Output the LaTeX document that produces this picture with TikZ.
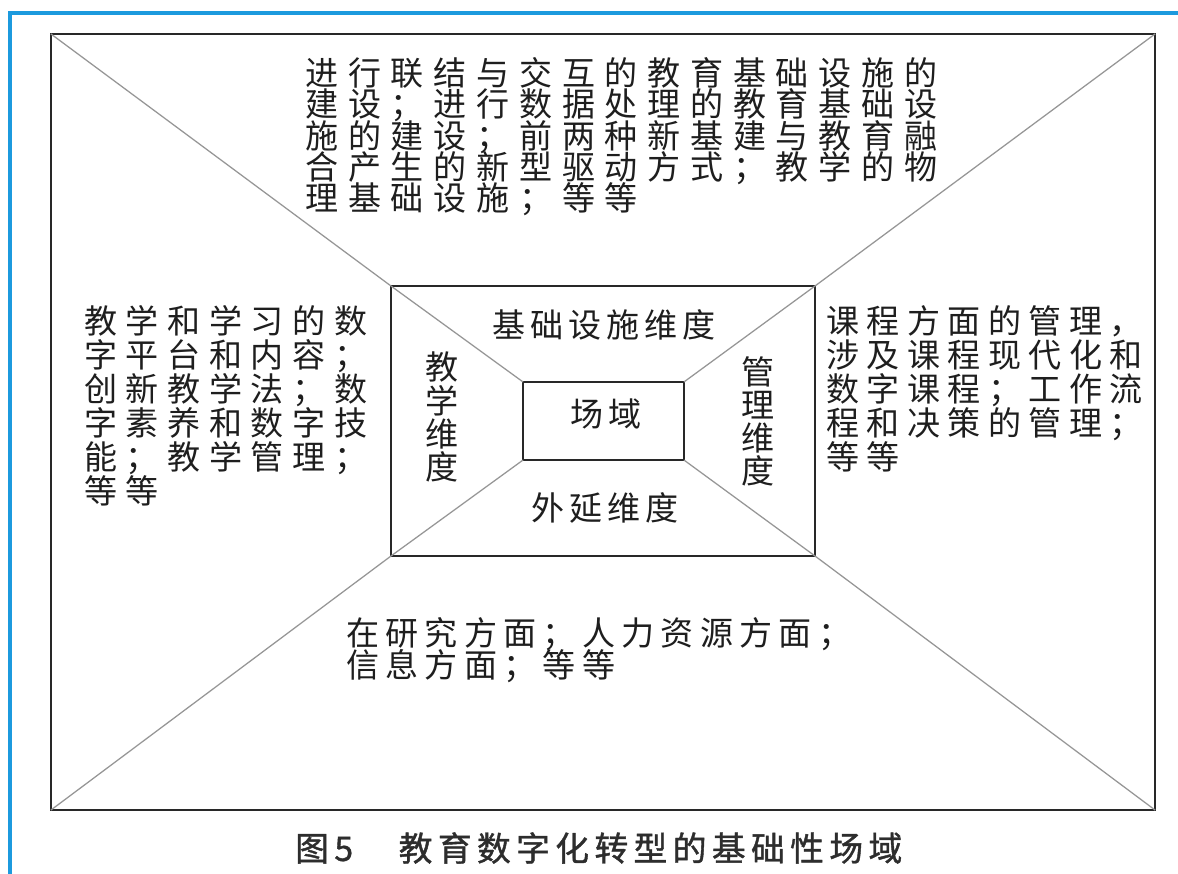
\documentclass[tikz,border=0pt]{standalone}
\usepackage{fontspec}
\usetikzlibrary{positioning}
\newfontfamily\cjkA[LetterSpace=29.5]{Noto Sans CJK SC}
\newfontfamily\cjkL[LetterSpace=26]{Noto Sans CJK SC}
\newfontfamily\cjkR[LetterSpace=22.5]{Noto Sans CJK SC}
\newfontfamily\cjkD[LetterSpace=19]{Noto Sans CJK SC}
\newfontfamily\cjkC[LetterSpace=14.5]{Noto Sans CJK SC}
\newfontfamily\capfont[LetterSpace=16,FakeBold=1.2]{Noto Sans CJK SC}
\definecolor{frameblue}{RGB}{28,154,222}
\definecolor{lnclr}{RGB}{40,40,40}
\definecolor{diagclr}{RGB}{150,150,150}
\definecolor{txtclr}{RGB}{30,30,30}
\definecolor{capclr}{RGB}{45,45,45}
\tikzset{
  frm/.style={rectangle,draw=lnclr,line width=1.3pt,inner sep=0pt,outer sep=0pt},
  diag/.style={draw=diagclr,line width=0.9pt},
  body/.style={anchor=north west,inner sep=0pt,align=left,text=txtclr},
  dimlbl/.style={inner sep=0pt,align=center,text=txtclr,
    font=\cjkC\fontsize{23.5}{23.5}\selectfont},
}
\begin{document}
\lineskiplimit=-30pt
\begin{tikzpicture}[x=0.025cm,y=-0.025cm]
  \useasboundingbox (0,0) rectangle (1178,874);
  % blue frame
  \draw[frameblue,line width=3.2pt] (10,874) -- (10,13) -- (1178,13);
  % rectangles
  \node[frm,minimum width=27.6cm,minimum height=19.4cm] (outer) at (603,422) {};
  \node[frm,minimum width=10.6cm,minimum height=6.75cm] (mid) at (603,421) {};
  \node[frm,minimum width=4.02cm,minimum height=1.95cm] (core) at (603.5,421) {};
  % diagonals
  \draw[diag] (outer.north west) -- (mid.north west);
  \draw[diag] (outer.north east) -- (mid.north east);
  \draw[diag] (outer.south west) -- (mid.south west);
  \draw[diag] (outer.south east) -- (mid.south east);
  \draw[diag] (mid.north west) -- (core.north west);
  \draw[diag] (mid.north east) -- (core.north east);
  \draw[diag] (mid.south west) -- (core.south west);
  \draw[diag] (mid.south east) -- (core.south east);
  % inner labels
  \node[dimlbl] (core-lbl) at (606,414) {场域};
  \node[dimlbl] (infra) at (604,325) {基础设施维度};
  \node[dimlbl] (ext) at (605,508) {外延维度};
  \node[dimlbl] (teach) at (442,417) {教\\学\\维\\度};
  \node[dimlbl] (manage) at (758,421) {管\\理\\维\\度};
  % outer texts
  \node[body,font=\cjkA\fontsize{23.5}{22.3}\selectfont] (infra-txt) at (305,57)
    {进行联结与交互的教育基础设施的\\建设；进行数据处理的教育基础设\\施的建设；前两种新基建与教育融\\合产生的新型驱动方式；教学的物\\理基础设施；等等};
  \node[body,font=\cjkL\fontsize{23.5}{24.2}\selectfont] (teach-txt) at (84,305)
    {教学和学习的数\\字平台和内容；\\创新教学法；数\\字素养和数字技\\能；教学管理；\\等等};
  \node[body,font=\cjkR\fontsize{23.5}{24.2}\selectfont] (manage-txt) at (826,305)
    {课程方面的管理，\\涉及课程现代化和\\数字课程；工作流\\程和决策的管理；\\等等};
  \node[body,font=\cjkD\fontsize{23.5}{22.7}\selectfont] (ext-txt) at (346,617)
    {在研究方面；人力资源方面；\\信息方面；等等};
  % caption
  \node[anchor=west,inner sep=0pt,text=capclr,font=\capfont\fontsize{24}{26}\selectfont]
    (caption) at (295,848) {图5\hspace{1.35em}教育数字化转型的基础性场域};
\end{tikzpicture}
\end{document}
